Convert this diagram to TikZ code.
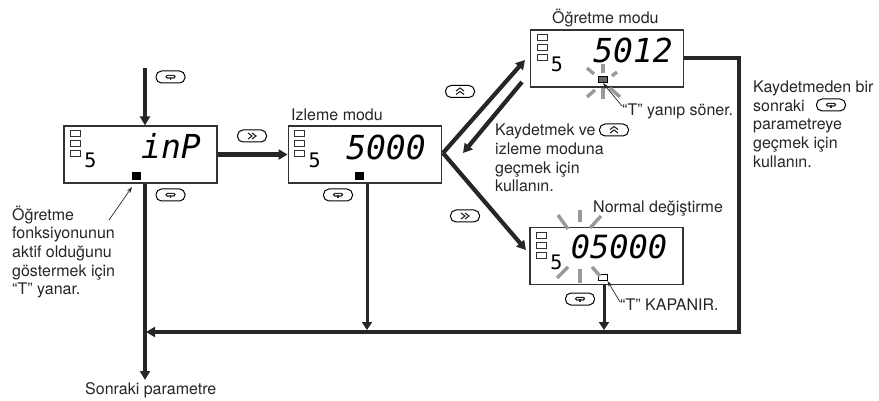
\documentclass[tikz,border=0pt]{standalone}
\usepackage{fontspec}
\setmainfont{TeX Gyre Heros}
\newfontfamily\lcdfont{DejaVu Sans Mono}
\usetikzlibrary{arrows.meta, positioning, calc}
\tikzset{
  display/.style={
    draw=black!80,
    line width=1.2pt,
    rectangle,
    minimum height=57pt,
    minimum width=153pt,
    inner sep=0pt,
  },
  lamp/.style={
    draw=black!80,
    line width=0.7pt,
    rectangle,
    minimum height=6pt,
    minimum width=10pt,
    inner sep=0pt,
  },
  tmark/.style={
    draw=black,
    line width=0.7pt,
    rectangle,
    minimum height=6.5pt,
    minimum width=8.5pt,
    inner sep=0pt,
  },
  lcd/.style={
    inner sep=0pt,
    font=\lcdfont\itshape\fontsize{33}{33}\selectfont,
  },
  lcdsmall/.style={
    inner sep=0pt,
    font=\lcdfont\fontsize{20}{20}\selectfont,
  },
  label/.style={
    inner sep=0pt,
    anchor=west,
    align=left,
    text=black!85,
    font=\fontsize{16}{18.7}\selectfont,
  },
  keybtn/.style={
    draw=black,
    line width=1pt,
    rectangle,
    rounded corners=5.5pt,
    minimum height=12pt,
    minimum width=29pt,
    inner sep=0pt,
  },
  arrow/.style={
    -{Triangle[length=9pt,width=10pt]},
    line width=4.2pt,
    draw=black!85,
  },
  arrowthin/.style={
    -{Triangle[length=8pt,width=10pt]},
    line width=3pt,
    draw=black!85,
  },
  callout/.style={
    -{Stealth[length=6pt,width=4pt]},
    line width=0.7pt,
    draw=black!85,
  },
  ray/.style={
    line width=3.4pt,
    draw=black!40,
  },
  lamps/.pic={
    \node[lamp] at (12,8) {};
    \node[lamp] at (12,18) {};
    \node[lamp] at (12,28) {};
  },
  loopglyph/.pic={
    \draw[line width=1.2pt, black!85, rounded corners=1.2pt] (-4.5,-1.6) rectangle (4.5,1);
    \draw[line width=1.4pt, black!85] (0,0) -- (0,3.4);
  },
  fastglyph/.pic={
    \draw[line width=1.1pt, black!85] (-4,-3) -- (0,0) -- (-4,3) (0,-3) -- (4,0) -- (0,3);
  },
  upglyph/.pic={
    \draw[line width=1.1pt, black!85] (-4,-0.5) -- (0,-3.5) -- (4,-0.5) (-4,3) -- (0,0) -- (4,3);
  },
}

\begin{document}
\begin{tikzpicture}[x=1pt, y=-1pt]
  \useasboundingbox (0,0) rectangle (879,401);

  % Ekranlar
  \node[display] (inp) at (140.5,154.5) {};
  \node[display, right=70pt of inp] (izle) {};
  \node[display] (ogret) at (607,58.5) {};
  \node[display] (normal) at (606.5,256) {};
  \foreach \d in {inp,izle,ogret,normal} {
    \pic at (\d.north west) {lamps};
    \node[lcdsmall] at ($(\d.north west)+(27,35)$) {5};
  }
  \node[lcd] (inptext) at (171,146) {inP};
  \node[lcd] (izletext) at (386,147) {5000};
  \node[lcd] (ogrettext) at (633,50) {5012};
  \node[lcd, font=\lcdfont\itshape\fontsize{32}{32}\selectfont] (normaltext) at (619,247) {05000};

  % T
  \node[tmark, fill=black] (tinp) at (136.5,176) {};
  \node[tmark, fill=black] (tizle) at (359.5,176) {};
  \node[tmark, fill=black!60] (togret) at (603,79.5) {};
  \node[tmark, fill=white] (tnormal) at (603,277.5) {};

  % Yanip sonme
  \draw[ray] (603,64) -- (603,73) (603,88) -- (603,99);
  \draw[ray] (587,68) -- (594,74) (612,76) -- (617,72);
  \draw[ray] (587,97) -- (595,90) (610,88) -- (620,97);
  \draw[ray] (580,210) -- (580,222) (580,269) -- (580,283);
  \draw[ray] (558,215) -- (568,229) (590,228) -- (601,216);
  \draw[ray] (557,278) -- (568,267) (592,267) -- (600,276);

  % Metinler
  \node[label] (izlemodu) at (291,115) {Izleme modu};
  \node[label] (ogretmodu) at (552,18) {Öğretme modu};
  \node[label] (normalmodu) at (593,209) {Normal değiştirme};
  \node[label] (ysoner) at (622,111) {“T” yanıp söner.};
  \node[label] (kapanir) at (620,305) {“T” KAPANIR.};
  \node[label] (sonraki) at (85,390) {Sonraki parametre};
  \node[label] (tyanar) at (12,252) {Öğretme\\fonksiyonunun\\aktif olduğunu\\göstermek için\\“T” yanar.};
  \node[label] (kaydet) at (495,158) {Kaydetmek ve\\izleme moduna\\geçmek için\\kullanın.};
  \node[label] (kaydetme) at (753,124) {Kaydetmeden bir\\sonraki\\parametreye\\geçmek için\\kullanın.};

  % Tuslar
  \node[keybtn] (k1) at (170.5,77) {};
  \node[keybtn] (k2) at (170.5,195) {};
  \node[keybtn] (k3) at (252,136) {};
  \node[keybtn] (k4) at (338,195) {};
  \node[keybtn] (k5) at (460,91.5) {};
  \node[keybtn] (k6) at (465,216) {};
  \node[keybtn] (k7) at (580,299) {};
  \node[keybtn] (k8) at (614,130) {};
  \node[keybtn] (k9) at (831,105) {};
  \foreach \k in {k1,k2,k4,k7,k9} \pic at (\k) {loopglyph};
  \foreach \k in {k3,k6} \pic at (\k) {fastglyph};
  \foreach \k in {k5,k8} \pic at (\k) {upglyph};

  % Oklar
  \coordinate (start) at (145,68);
  \coordinate (sonrakiuc) at (145,380);
  \coordinate (apex) at (443,153);
  \coordinate (kose) at (739,58);
  \coordinate (altkose) at (739,332);
  \coordinate (birlesme) at (146,332);
  \coordinate (izleust) at (525,60);
  \coordinate (ogretalt) at (522,82);
  \coordinate (donus) at (463,153);
  \coordinate (normalsol) at (526,250);
  \coordinate (izlealt) at (367,183);
  \coordinate (izlebirles) at (367,330);
  \coordinate (normalalt) at (604,284);
  \coordinate (normalbirles) at (604,330);

  \draw[arrow] (start) -- (start |- inp.north);
  \draw[arrow] (inp.east) -- (izle.west);
  \draw[arrow] (start |- inp.south) -- (sonrakiuc);
  \draw[arrow] (ogret.east |- kose) -- (kose) -- (altkose) -- (birlesme);
  \draw[arrow] (apex) -- (izleust);
  \draw[arrow] (ogretalt) -- (donus);
  \draw[arrow] (apex) -- (normalsol);
  \draw[arrowthin] (izlealt) -- (izlebirles);
  \draw[arrowthin] (normalalt) -- (normalbirles);

  % Ince oklar
  \coordinate (c1) at (109,220);
  \coordinate (c2) at (622,106);
  \coordinate (c3) at (620,302);
  \draw[callout] (c1) -- (132,187);
  \draw[callout] (c2) -- (togret.south);
  \draw[callout] (c3) -- (tnormal.south east);
\end{tikzpicture}
\end{document}
